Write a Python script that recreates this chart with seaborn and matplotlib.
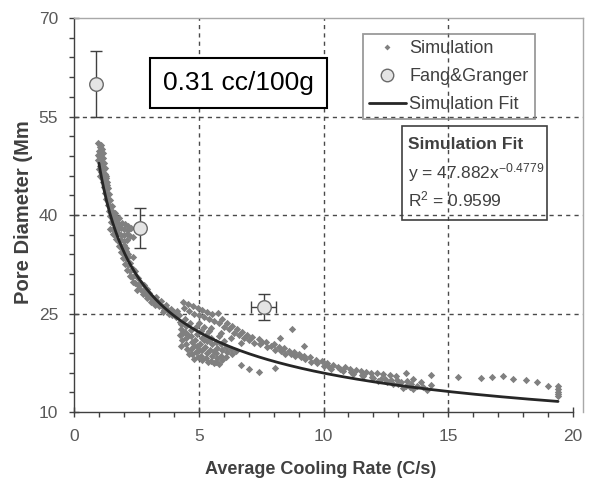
import numpy as np
import pandas as pd
import matplotlib
matplotlib.use("Agg")
import matplotlib.pyplot as plt
import seaborn as sns
from matplotlib.lines import Line2D
from matplotlib.patches import Rectangle

# ---- simulation results: steep branch at low cooling rates ----
steep_x = [1.10, 1.05, 1.13, 1.00, 1.08, 1.15, 1.02, 1.10, 1.18, 0.98, 1.06, 1.14, 1.22, 1.03, 1.11,
           1.19, 1.08, 1.16, 1.24, 1.12, 1.20, 1.28, 1.17, 1.25, 1.32,
           0.95, 1.00, 1.04, 0.97, 1.26, 1.30, 1.05, 1.34,
           1.20, 1.28, 1.36, 1.25, 1.33, 1.41, 1.30, 1.38, 1.46, 1.35, 1.43, 1.52, 1.40, 1.48, 1.57,
           1.66, 1.44, 1.53, 1.62, 1.72, 1.82, 1.50, 1.60, 1.70, 1.80, 1.92, 2.05, 2.18, 1.45, 1.57,
           1.68, 1.78, 1.90, 2.02, 2.15, 2.28, 1.55, 1.65, 1.77, 1.88, 2.00, 2.12, 2.25, 2.37, 1.68,
           1.78, 1.90, 2.02, 2.14, 1.80, 1.90, 2.00, 2.10, 1.88, 1.98, 2.08, 2.16, 1.98, 2.08, 2.18,
           2.37, 2.06, 2.16, 2.26, 2.14, 2.24, 2.35, 2.44, 2.24, 2.34, 2.45, 2.55, 2.35, 2.46, 2.57,
           2.68, 2.80, 2.52, 2.66, 2.78, 2.92, 2.93, 2.75, 2.88, 3.02, 3.10, 3.05, 3.18, 3.30, 3.25,
           3.22, 3.38, 3.50, 3.40, 3.55, 3.68, 3.57, 3.60, 3.75, 3.88, 3.93, 3.80, 4.00, 4.12, 4.25,
           4.10, 4.22]
steep_y = [50.7, 50.3, 50.1, 49.8, 49.6, 49.4, 49.0, 48.8, 48.7, 48.3, 48.1, 47.9, 47.9, 47.4, 47.2,
           47.0, 46.5, 46.3, 46.2, 45.7, 45.5, 45.6, 45.0, 44.8, 45.0,
           49.2, 47.0, 45.9, 50.9, 47.1, 46.0, 50.6, 44.5,
           44.2, 44.0, 44.1, 43.3, 43.1, 43.2, 42.4, 42.2, 42.3, 41.5, 41.3, 41.4, 40.6, 40.4, 40.5,
           40.3, 39.8, 39.6, 39.7, 39.5, 39.6, 39.0, 38.8, 38.9, 38.7, 38.8, 38.6, 38.4, 37.8, 37.9,
           38.0, 37.9, 38.0, 37.8, 37.7, 38.0, 37.1, 37.0, 37.2, 37.0, 36.9, 37.1, 36.8, 36.7, 36.3,
           36.1, 36.2, 36.0, 36.2, 35.3, 35.1, 35.4, 35.0, 34.4, 34.2, 34.5, 34.0, 33.5, 33.3, 33.6,
           33.6, 32.6, 32.4, 32.7, 31.7, 31.5, 31.8, 31.4, 30.7, 30.5, 30.8, 30.4, 29.8, 29.6, 29.3,
           29.6, 29.4, 28.6, 28.8, 28.5, 28.7, 27.4, 28.0, 27.9, 28.1, 26.8, 27.5, 27.3, 27.5, 26.3,
           26.9, 26.7, 26.9, 26.2, 26.0, 26.3, 25.2, 25.6, 25.5, 25.7, 24.8, 25.0, 25.2, 25.4, 23.7,
           24.5, 24.7]

# ---- simulation results: dense cluster around 4-7 C/s ----
blob_x = [4.28, 4.30, 4.26, 4.32, 4.30, 4.45, 4.48, 4.46, 4.50, 4.47, 4.52, 4.66, 4.70, 4.68, 4.72,
          4.69, 4.74, 4.88, 4.92, 4.86, 4.94, 4.90, 4.95, 5.08, 5.12, 5.06, 5.14, 5.10, 5.15, 5.28,
          5.32, 5.27, 5.34, 5.30, 5.36, 5.48, 5.52, 5.47, 5.54, 5.50, 5.68, 5.72, 5.70, 5.74, 5.69,
          5.90, 5.94, 5.88, 5.95, 6.10, 6.14, 6.08, 6.30, 6.33, 6.50,
          4.37, 4.42, 4.55, 4.60, 4.75, 4.80, 4.95, 5.00, 5.15, 5.20, 5.35, 5.40, 5.55, 5.60, 5.78,
          5.80, 5.95, 6.00, 6.15, 6.20, 6.35, 6.40, 6.55, 6.60, 6.75, 6.80, 6.95, 7.00, 7.15, 7.20,
          5.50, 5.90, 6.30, 6.70, 4.58, 4.80, 5.02, 5.22, 5.42, 5.62, 5.82, 6.02, 4.38, 4.60, 4.82,
          5.00, 5.20, 5.40, 5.60, 5.80]
blob_y = [23.4, 22.6, 21.7, 20.9, 20.1, 24.1, 23.1, 22.2, 21.3, 20.4, 19.6, 23.6, 22.5, 21.5, 20.6,
          19.6, 18.8, 22.9, 21.9, 21.0, 20.0, 19.1, 18.3, 22.4, 21.3, 20.4, 19.5, 18.6, 17.9, 21.8,
          20.8, 19.9, 19.0, 18.2, 17.6, 21.3, 20.3, 19.4, 18.6, 17.8, 20.7, 19.8, 19.0, 18.2, 17.6,
          20.3, 19.4, 18.6, 17.9, 19.9, 19.1, 18.4, 19.6, 18.8, 19.3,
          26.8, 25.9, 26.4, 25.4, 26.1, 25.0, 25.8, 24.8, 25.5, 24.5, 25.3, 24.1, 25.0, 23.8, 25.1,
          23.5, 24.2, 23.0, 23.6, 22.6, 23.1, 22.1, 22.6, 21.7, 22.2, 21.3, 21.8, 20.9, 21.4, 20.5,
          22.8, 22.0, 21.2, 20.5, 21.8, 20.1, 19.5, 20.9, 21.0, 19.3, 21.6, 20.8, 22.1, 18.9, 18.0,
          23.5, 22.9, 22.4, 17.4, 17.3]

# ---- simulation results: band at moderate cooling rates ----
band_x = [7.40, 7.45, 7.70, 7.75, 8.00, 8.05, 8.20, 8.40, 8.45, 8.60, 8.80, 8.85, 9.00, 9.20, 9.25,
          9.45, 9.70, 9.75, 9.95, 10.15, 10.20, 10.40, 10.60, 10.65, 10.85, 11.05, 11.10, 11.30,
          11.50, 11.55, 11.70, 11.90, 11.95, 12.15, 12.40, 12.45, 12.55, 12.65, 12.90, 12.95, 13.00,
          13.30, 13.30, 13.35, 13.45, 13.60, 13.75, 14.15, 14.30, 14.30,
          8.75, 8.25, 9.20, 6.70, 7.00, 7.40, 8.05,
          7.55, 7.90, 8.30, 8.70, 9.10, 9.50, 10.00, 10.30, 10.80, 11.20, 11.60, 12.00, 12.30,
          12.70, 13.10, 13.50, 13.90, 12.20, 12.80, 13.20, 13.60, 14.00]
band_y = [21.1, 20.3, 20.7, 19.9, 20.3, 19.5, 19.9, 19.7, 18.9, 19.3, 19.2, 18.5, 18.8, 18.6, 18.0,
          18.3, 17.9, 17.4, 17.7, 17.5, 16.9, 17.2, 16.9, 16.5, 16.8, 16.5, 16.1, 16.4,
          16.2, 15.7, 16.1, 15.9, 15.4, 15.9, 15.8, 15.1, 14.6, 15.6, 15.5, 14.8, 14.2,
          15.9, 13.9, 14.7, 13.8, 15.0, 14.0, 13.3, 14.1, 15.6,
          22.6, 21.3, 20.0, 17.2, 16.5, 16.1, 16.7,
          20.6, 20.1, 19.3, 18.9, 18.3, 17.6, 17.0, 16.6, 16.3, 15.8, 15.5, 15.2, 15.0,
          14.8, 14.5, 14.3, 14.6, 14.7, 14.3, 13.6, 13.5, 13.8]

# ---- simulation results: sparse high-rate tail ----
tail_x = [15.40, 16.30, 16.75, 17.20, 17.60, 18.10, 18.55, 19.00, 19.40, 19.40, 19.40, 19.40, 19.40]
tail_y = [15.35, 15.20, 15.35, 15.50, 15.00, 14.90, 14.60, 14.00, 13.90, 13.50, 13.10, 12.70, 12.40]

# ---- Fang & Granger measurements ----
fang_x = [0.9, 2.65, 7.6]
fang_y = [60.0, 38.0, 26.0]
fang_xerr = [0.0, 0.0, 0.5]
fang_yerr = [5.0, 3.0, 2.0]

# ---- power-law fit of the simulation ----
fit_a = 47.882
fit_b = -0.4779
fit_r2 = 0.9599
fit_range = [1.0, 19.4]

x_ticks = [0, 5, 10, 15, 20]
y_ticks = [10, 25, 40, 55, 70]

sim = pd.DataFrame({
    "rate": steep_x + blob_x + band_x + tail_x,
    "pore": steep_y + blob_y + band_y + tail_y,
})
fang = pd.DataFrame({"rate": fang_x, "pore": fang_y})
fit_x = np.linspace(fit_range[0], fit_range[1], 300)
fit = pd.DataFrame({"rate": fit_x, "pore": fit_a * fit_x ** fit_b})

sns.set_theme(style="white")
plt.rcParams["font.family"] = ["Liberation Sans", "DejaVu Sans"]
plt.rcParams["mathtext.fontset"] = "custom"
plt.rcParams["mathtext.rm"] = "Liberation Sans"
plt.rcParams["mathtext.it"] = "Liberation Sans:italic"
plt.rcParams["mathtext.bf"] = "Liberation Sans:bold"

fig = plt.figure(figsize=(5.95, 4.84), dpi=100)
ax = fig.add_axes([74 / 595, 1 - 412 / 484, 509 / 595, 394 / 484])

grid_kw = dict(color="#4a4a4a", lw=1, ls=(0, (3, 3)), zorder=1)
for gx in x_ticks[1:-1]:
    ax.axvline(gx, **grid_kw)
for gy in y_ticks[1:-1]:
    ax.axhline(gy, **grid_kw)

sns.scatterplot(data=sim, x="rate", y="pore", marker="D", s=14, color="#808080",
                linewidth=0, ax=ax, legend=False, zorder=2)
sns.lineplot(data=fit, x="rate", y="pore", color="#262626", lw=2, ax=ax, zorder=3)
ax.errorbar(fang_x, fang_y, xerr=fang_xerr, yerr=fang_yerr, fmt="none", ecolor="#404040",
            elinewidth=1, capsize=4, capthick=1, zorder=4)
sns.scatterplot(data=fang, x="rate", y="pore", marker="o", s=95, color="#e4e4e4",
                edgecolor="#6a6a6a", linewidth=1, ax=ax, legend=False, zorder=5)

ax.set_xlim(0, 20.4)
ax.set_ylim(10, 70)
ax.set_xticks(x_ticks)
ax.set_xticks(np.arange(0, 21, 1), minor=True)
ax.set_yticks(y_ticks)
ax.set_yticks(np.arange(10, 71, 3), minor=True)
ax.spines["bottom"].set_bounds(0, 20)
for side in ("left", "bottom"):
    ax.spines[side].set_color("#404040")
    ax.spines[side].set_linewidth(1)
for side in ("top", "right"):
    ax.spines[side].set_color("#a8a8a8")
    ax.spines[side].set_linewidth(1)
ax.tick_params(which="major", direction="inout", length=7, width=1, color="#404040",
               labelsize=12.5, labelcolor="#595959")
ax.tick_params(which="minor", direction="out", length=3.5, width=1, color="#404040")
ax.tick_params(axis="x", which="major", pad=9)
ax.tick_params(axis="y", which="major", pad=8)
ax.tick_params(bottom=True, left=True, which="both")
ax.set_xlabel("")
ax.set_ylabel("")

fig.text(321 / 595, 1 - 470 / 484, "Average Cooling Rate (C/s)", fontsize=13, fontweight="bold",
         color="#404040", ha="center", va="center")
fig.text(24 / 595, 1 - 212 / 484, "Pore Diameter (Mm", fontsize=14.5, fontweight="bold",
         color="#404040", ha="center", va="center", rotation=90)

handles = [
    Line2D([], [], ls="none", marker="D", ms=3, color="#808080", mec="none"),
    Line2D([], [], ls="none", marker="o", ms=9, mfc="#e4e4e4", mec="#6a6a6a", mew=1),
    Line2D([], [], color="#262626", lw=2),
]
leg = ax.legend(handles, ["Simulation", "Fang&Granger", "Simulation Fit"], loc="upper left",
                bbox_to_anchor=(0.568, 0.959), borderaxespad=0, fontsize=13, frameon=True,
                fancybox=False, handlelength=2.0, handletextpad=0.2, labelspacing=0.6,
                borderpad=0.35)
leg.get_frame().set_edgecolor("#808080")
leg.get_frame().set_linewidth(1.3)
leg.get_frame().set_facecolor("none")
for t in leg.get_texts():
    t.set_color("#404040")

ax.text(6.59, 60.1, "0.31 cc/100g", fontsize=19, color="black", ha="center", va="center",
        zorder=7, bbox=dict(boxstyle="square,pad=0.5", fc="white", ec="black", lw=1.5))

ax.add_patch(Rectangle((13.15, 39.24), 5.81, 14.31, fill=False, ec="#404040", lw=1.2, zorder=6))
ax.text(13.4, 50.8, "Simulation Fit", fontsize=12.5, fontweight="bold", color="#404040",
        va="center", zorder=7)
ax.text(13.4, 46.4, "y = %.3fx$^{%.4f}$" % (fit_a, fit_b), fontsize=12.5, color="#404040",
        va="center", zorder=7)
ax.text(13.4, 42.3, "R$^{2}$ = %.4f" % fit_r2, fontsize=12.5, color="#404040",
        va="center", zorder=7)

fig.savefig("out.png", dpi=100)
